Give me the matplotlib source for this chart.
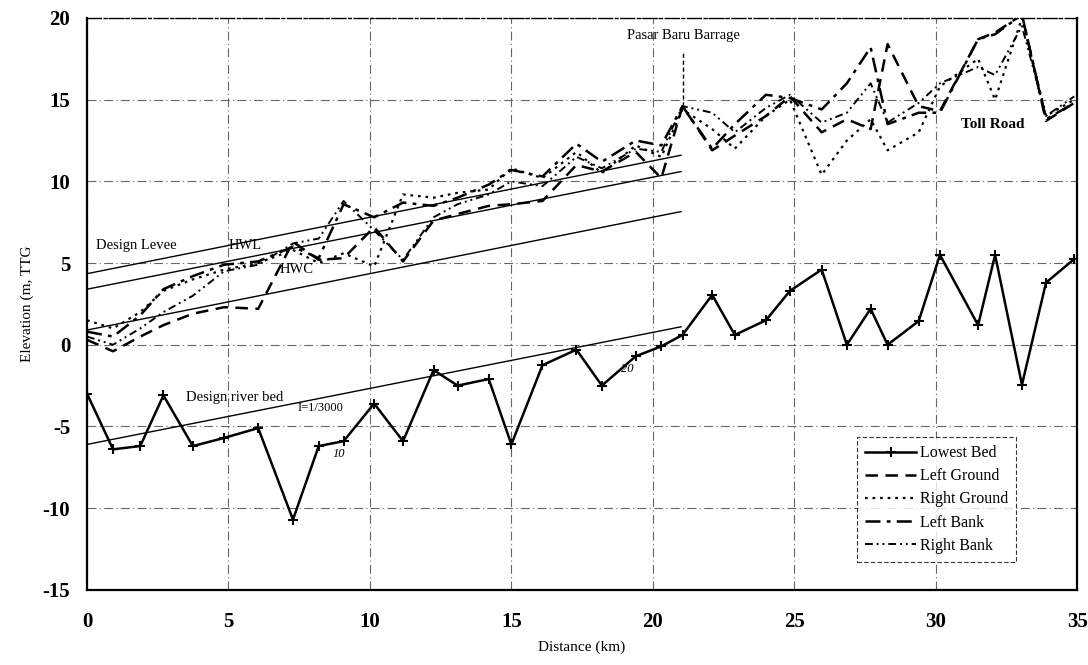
import matplotlib
matplotlib.use("Agg")
import matplotlib.pyplot as plt

plt.rcParams['font.family'] = ['Liberation Serif', 'DejaVu Serif']

# Survey cross-section distances (km)
dist = [0, 0.92, 1.88, 2.7, 3.74, 4.85, 6.05, 7.28, 8.19, 9.07, 10.15, 11.17,
        12.25, 13.1, 14.2, 15.0, 16.1, 17.3, 18.2, 19.4, 20.3, 21.05, 22.1,
        22.9, 24.0, 24.85, 25.97, 26.86, 27.7, 28.3, 29.4, 30.15, 31.5, 32.1,
        33.05, 33.9, 34.9]

lowest_bed = [-3.0, -6.4, -6.2, -3.1, -6.2, -5.7, -5.1, -10.7, -6.2, -5.9, -3.6,
              -5.9, -1.55, -2.5, -2.1, -6.1, -1.25, -0.3, -2.5, -0.7, -0.1, 0.6,
              3.05, 0.6, 1.5, 3.3, 4.6, 0.0, 2.2, 0.0, 1.45, 5.5, 1.2, 5.5,
              -2.45, 3.8, 5.25]

left_ground = [0.3, -0.4, 0.5, 1.2, 1.9, 2.3, 2.2, 6.3, 5.2, 5.3, 7.2, 5.1,
               7.6, 8.0, 8.5, 8.6, 8.8, 11.0, 10.6, 11.8, 10.2, 14.6, 11.9,
               12.8, 14.0, 15.2, 13.0, 13.8, 13.2, 18.4, 14.6, 14.3, 18.7,
               19.1, 20.2, 13.7, 14.8]

right_ground = [1.5, 1.0, 2.0, 3.3, 4.0, 4.6, 5.0, 5.8, 5.0, 5.6, 4.8, 9.2,
                9.0, 9.3, 9.5, 10.8, 10.2, 11.8, 10.5, 12.2, 11.5, 14.4, 13.2,
                12.0, 14.0, 15.0, 10.4, 12.5, 13.8, 11.9, 13.0, 15.8, 17.5,
                15.0, 20.0, 14.0, 15.0]

left_bank = [0.8, 0.5, 1.8, 3.4, 4.2, 4.9, 5.1, 6.0, 5.3, 8.6, 7.8, 8.7, 8.5,
             9.0, 9.8, 10.7, 10.3, 12.3, 11.2, 12.5, 12.2, 14.6, 12.0, 13.5,
             15.3, 15.1, 14.4, 16.0, 18.2, 13.5, 14.2, 14.2, 18.7, 19.0, 20.2,
             13.8, 14.8]

right_bank = [0.5, 0.0, 1.0, 2.0, 3.0, 4.5, 4.9, 6.2, 6.5, 8.8, 7.0, 5.2, 7.8,
              8.6, 9.2, 10.0, 9.7, 11.5, 10.8, 12.0, 11.8, 14.6, 14.2, 13.0,
              14.5, 15.3, 13.6, 14.2, 16.0, 13.6, 14.8, 16.0, 17.0, 16.5, 19.5,
              14.0, 15.2]

# Design lines (start / end at km 0 and 21)
design_x = [0, 21]
design_levee = [4.35, 11.6]
design_hwl = [3.4, 10.6]
design_hwc = [0.9, 8.15]
design_bed = [-6.1, 1.1]

barrage_x = [21.05, 21.05]
barrage_y = [14.6, 17.9]

fig = plt.figure(figsize=(10.88, 6.65), dpi=100)
ax = fig.add_axes([0.080, 0.113, 0.910, 0.860])

ax.set_xlim(0, 35)
ax.set_ylim(-15, 20)
ax.set_xticks(range(0, 36, 5))
ax.set_yticks(range(-15, 21, 5))
ax.set_yticklabels(['-15', '-10', '-5', '0', '5', '10', '15', '20'])
ax.grid(True, color='0.4', linewidth=0.8, linestyle=(0, (8, 3, 1, 3)))
ax.set_axisbelow(True)

for s in ax.spines.values():
    s.set_linewidth(1.6)
ax.spines['top'].set_linewidth(1.0)
ax.spines['top'].set_linestyle((0, (10, 2, 2, 2)))

ax.tick_params(axis='x', length=0, labelsize=15, pad=16)
ax.tick_params(axis='y', length=0, labelsize=15, pad=12)
for lab in ax.get_xticklabels() + ax.get_yticklabels():
    lab.set_fontweight('bold')

k = dict(color='black', linewidth=1.0)
ax.plot(design_x, design_levee, **k)
ax.plot(design_x, design_hwl, **k)
ax.plot(design_x, design_hwc, **k)
ax.plot(design_x, design_bed, **k)
ax.plot(barrage_x, barrage_y, color='black', linewidth=1.0, linestyle=(0, (3, 2)))

ax.plot(dist, lowest_bed, color='black', linewidth=1.8, marker='+',
        markersize=7, markeredgewidth=1.5, label='Lowest Bed')
ax.plot(dist, left_ground, color='black', linewidth=1.8,
        linestyle=(0, (5, 3)), label='Left Ground')
ax.plot(dist, right_ground, color='black', linewidth=1.6,
        linestyle=(0, (1.2, 2.2)), label='Right Ground')
ax.plot(dist, left_bank, color='black', linewidth=1.8,
        linestyle=(0, (6, 2.5, 1.5, 2.5)), label='Left Bank')
ax.plot(dist, right_bank, color='black', linewidth=1.4,
        linestyle=(0, (4, 2, 1, 2, 1, 2)), label='Right Bank')

tk = dict(fontsize=10.5, color='black')
ax.text(0.3, 6.1, 'Design Levee', ha='left', va='center', **tk)
ax.text(5.0, 6.1, 'HWL', ha='left', va='center', **tk)
ax.text(6.8, 4.6, 'HWC', ha='left', va='center', **tk)
ax.text(3.5, -3.2, 'Design river bed', ha='left', va='center', **tk)
ax.text(7.45, -3.9, 'I=1/3000', ha='left', va='center', fontsize=9)
ax.text(8.9, -6.7, '10', ha='center', va='center', fontsize=9, style='italic')
ax.text(19.1, -1.5, '20', ha='center', va='center', fontsize=9, style='italic')
ax.text(19.1, 18.9, 'Pasar Baru Barrage', ha='left', va='center', **tk)
ax.text(30.9, 13.5, 'Toll Road', ha='left', va='center', fontsize=11,
        fontweight='bold')

ax.set_xlabel('Distance (km)', fontsize=11, labelpad=6)
ax.set_ylabel('Elevation (m, TTG', fontsize=11, labelpad=6)

leg = ax.legend(loc='lower left', bbox_to_anchor=(0.770, 0.035), fontsize=11.5,
                frameon=True, fancybox=False, edgecolor='black',
                handlelength=3.2, handletextpad=0.2, borderpad=0.5,
                labelspacing=0.45)
leg.get_frame().set_linewidth(0.8)
leg.get_frame().set_linestyle((0, (4, 2)))

fig.savefig('out.png', dpi=100)
